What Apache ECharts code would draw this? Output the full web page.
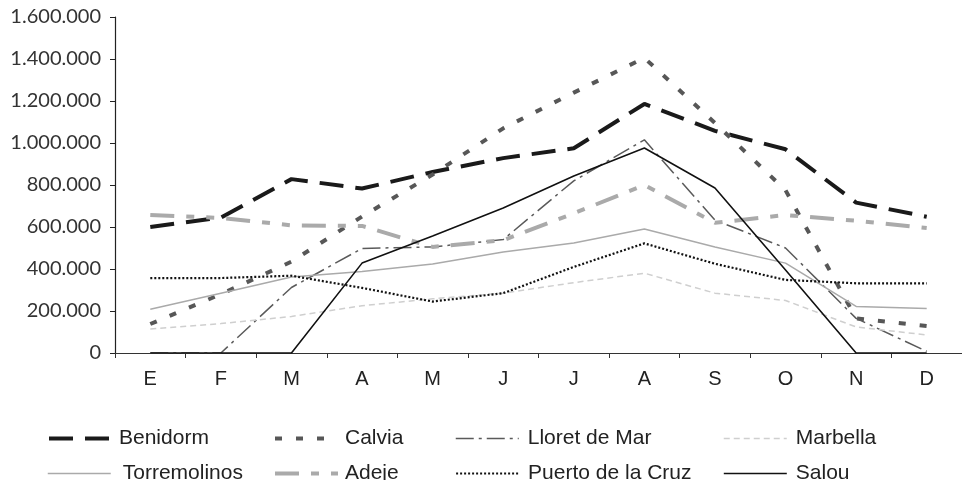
<!DOCTYPE html>
<html>
<head>
<meta charset="utf-8">
<script src="https://cdn.jsdelivr.net/npm/echarts@6/dist/echarts.min.js"></script>
<style>
  html, body { margin: 0; padding: 0; background: #fff; }
  #chart { width: 962px; height: 480px; }
</style>
</head>
<body>
<div id="chart"></div>
<script>
// Monthly visitor counts per destination
const months = ['E', 'F', 'M', 'A', 'M', 'J', 'J', 'A', 'S', 'O', 'N', 'D'];

const benidorm     = [600000, 645000, 828000, 783000, 862000, 928000, 975000, 1186000, 1058000, 970000, 716000, 649000];
const calvia       = [138000, 280000, 435000, 650000, 850000, 1070000, 1240000, 1405000, 1095000, 775000, 165000, 128000];
const lloret       = [0, 0, 312000, 498000, 505000, 540000, 820000, 1015000, 633000, 500000, 165000, 8000];
const marbella     = [114000, 140000, 174000, 225000, 258000, 285000, 335000, 380000, 285000, 250000, 124000, 86000];
const torremolinos = [208000, 285000, 362000, 388000, 424000, 481000, 524000, 590000, 505000, 428000, 222000, 212000];
const adeje        = [657000, 643000, 608000, 605000, 505000, 537000, 665000, 800000, 620000, 657000, 630000, 595000];
const puerto       = [357000, 357000, 368000, 310000, 245000, 285000, 410000, 522000, 425000, 348000, 332000, 332000];
const salou        = [0, 0, 0, 428000, 557000, 690000, 843000, 976000, 786000, 395000, 0, 0];

const yTicks = [0, 200000, 400000, 600000, 800000, 1000000, 1200000, 1400000, 1600000];

const fmt = v => String(v).replace(/\B(?=(\d{3})+(?!\d))/g, '.');

// name, values, colour, width, dash pattern, legend position and text offset
const lines = [
  { name: 'Benidorm',           data: benidorm,     color: '#1a1a1a', width: 4,   dash: [24, 12],                 left: 47,  row: 0, pad: 2 },
  { name: 'Calvia',             data: calvia,       color: '#575757', width: 4,   dash: [7, 14],                  left: 273, row: 0, pad: 2 },
  { name: 'Lloret de Mar',      data: lloret,       color: '#5a5a5a', width: 1.5, dash: [18, 5, 3, 5],            left: 455, row: 0, pad: 4 },
  { name: 'Marbella',           data: marbella,     color: '#cfcfcf', width: 1.5, dash: [6, 4],                   left: 723, row: 0, pad: 4 },
  { name: 'Torremolinos',       data: torremolinos, color: '#aaaaaa', width: 1.5, dash: 'solid',                  left: 47,  row: 1, pad: 7 },
  { name: 'Adeje',              data: adeje,        color: '#aaaaaa', width: 4,   dash: [24, 12, 8, 12, 8, 12],   left: 273, row: 1, pad: 2 },
  { name: 'Puerto de la Cruz',  data: puerto,       color: '#111111', width: 2.2, dash: [2, 2],                   left: 455, row: 1, pad: 4 },
  { name: 'Salou',              data: salou,        color: '#111111', width: 1.6, dash: 'solid',                  left: 723, row: 1, pad: 4 }
];

const rowTops = [428, 463];

const chart = echarts.init(document.getElementById('chart'));

chart.setOption({
  animation: false,
  backgroundColor: '#ffffff',
  grid: { left: 115, top: 17, width: 864, height: 336, containLabel: false },
  xAxis: {
    type: 'category',
    data: months,
    boundaryGap: true,
    axisLine: { show: true, lineStyle: { color: '#333', width: 1.2 } },
    axisTick: { show: true, length: 5, lineStyle: { color: '#333' } },
    axisLabel: { margin: 16, fontSize: 20, fontFamily: 'Liberation Sans', color: '#222' },
    splitLine: { show: false }
  },
  yAxis: {
    type: 'value',
    min: yTicks[0],
    max: yTicks[yTicks.length - 1],
    interval: yTicks[1] - yTicks[0],
    axisLine: { show: true, lineStyle: { color: '#222', width: 1.2 } },
    axisTick: { show: true, length: 5, lineStyle: { color: '#222' } },
    axisLabel: { margin: 14, fontSize: 20, fontFamily: 'Lato', color: '#333', formatter: fmt },
    splitLine: { show: false }
  },
  legend: lines.map(l => ({
    data: [l.name],
    left: l.left,
    top: rowTops[l.row],
    padding: 0,
    itemWidth: 63,
    itemHeight: 14,
    selectedMode: false,
    itemStyle: { opacity: 0 },
    lineStyle: { width: l.width, type: l.dash, color: l.color, cap: 'butt' },
    textStyle: { fontSize: 21, fontFamily: 'Liberation Sans', color: '#222', padding: [0, 0, 0, l.pad] }
  })),
  series: lines.map(l => ({
    name: l.name,
    type: 'line',
    data: l.data,
    symbol: 'none',
    smooth: false,
    color: l.color,
    lineStyle: { color: l.color, width: l.width, type: l.dash, cap: 'butt' }
  }))
});
</script>
</body>
</html>
